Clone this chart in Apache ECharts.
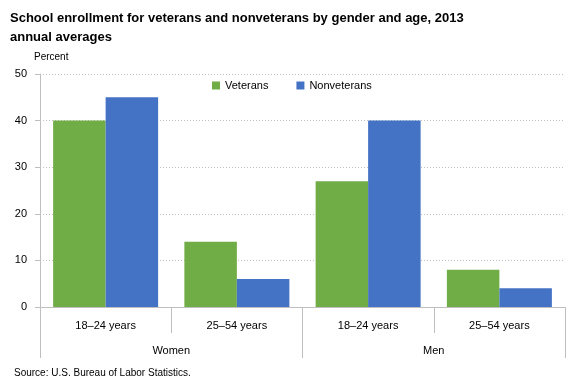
<!DOCTYPE html>
<html><head><meta charset="utf-8">
<script src="https://cdn.jsdelivr.net/npm/echarts@6/dist/echarts.min.js"></script>
<style>html,body{margin:0;padding:0;background:#fff}#c{width:577px;height:385px}</style>
</head><body><div id="c"></div>
<script>
var categories = ['18\u201324 years','25\u201354 years','18\u201324 years','25\u201354 years'];
var groups = ['Women','Men'];
var veterans = [40, 14, 27, 8];
var nonveterans = [45, 6, 40, 4];
var yTicks = [0, 10, 20, 30, 40, 50];

var font = 'Liberation Sans';
var chart = echarts.init(document.getElementById('c'));
chart.setOption({
  animation: false,
  textStyle: {fontFamily: font},
  title: [{
    text: 'School enrollment for veterans and nonveterans by gender and age, 2013\nannual averages',
    left: 5, top: 4,
    textStyle: {fontSize: 13, fontWeight: 'bold', color: '#000', lineHeight: 19, fontFamily: font}
  },{
    text: 'Source: U.S. Bureau of Labor Statistics.',
    left: 9, top: 363,
    textStyle: {fontSize: 10, fontWeight: 'normal', color: '#000', fontFamily: font}
  }],
  legend: {
    top: 75, left: 207, itemWidth: 8, itemHeight: 8, itemGap: 28,
    icon: 'rect',
    textStyle: {fontSize: 11, color: '#000', fontFamily: font},
    data: ['Veterans','Nonveterans']
  },
  grid: {left: 40, right: 12, top: 74, bottom: 78, containLabel: false},
  xAxis: [{
    type: 'category', data: categories, position: 'bottom',
    axisLine: {lineStyle: {color: '#bfbfbf'}},
    axisTick: {show: true, length: 26, interval: 0, lineStyle: {color: '#bfbfbf'}},
    axisLabel: {margin: 13, fontSize: 11, color: '#000', interval: 0, fontFamily: font}
  },{
    type: 'category', data: groups, position: 'bottom',
    axisLine: {show: false},
    axisTick: {show: true, length: 51, interval: 0, lineStyle: {color: '#bfbfbf'}},
    axisLabel: {margin: 38, fontSize: 11, color: '#000', interval: 0, fontFamily: font}
  }],
  yAxis: {
    type: 'value', min: 0, max: 50, interval: 10,
    name: 'Percent', nameLocation: 'end', nameGap: 12,
    nameTextStyle: {fontSize: 10, color: '#000', align: 'left', padding: [0,0,0,-6], fontFamily: font},
    axisLine: {show: true, lineStyle: {color: '#bfbfbf'}},
    axisTick: {show: true, length: 5, lineStyle: {color: '#bfbfbf'}},
    axisLabel: {fontSize: 11, color: '#000', margin: 13, fontFamily: font,
      formatter: function(v){ return yTicks.indexOf(v) >= 0 ? String(v) : ''; }},
    splitLine: {lineStyle: {color: '#bfbfbf', type: [1,2]}}
  },
  series: [{
    name: 'Veterans', type: 'bar', data: veterans, xAxisIndex: 0,
    barGap: '0%', barCategoryGap: '20%',
    itemStyle: {color: '#70AD47'}
  },{
    name: 'Nonveterans', type: 'bar', data: nonveterans, xAxisIndex: 0,
    itemStyle: {color: '#4472C4'}
  }]
});
</script></body></html>
